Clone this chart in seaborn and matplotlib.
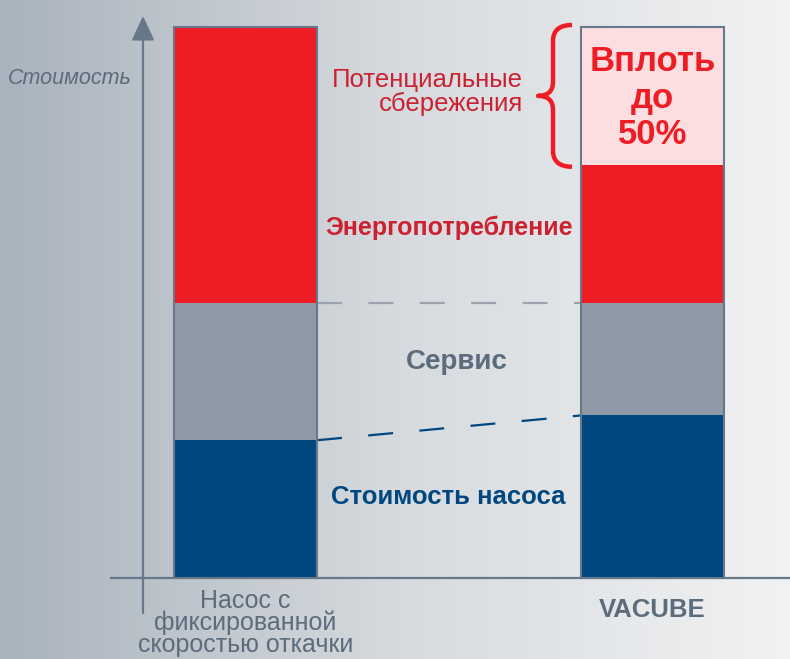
import numpy as np
import pandas as pd
import matplotlib
matplotlib.use("Agg")
import matplotlib.pyplot as plt
import matplotlib.colors as mcolors
from matplotlib.path import Path
from matplotlib.patches import PathPatch
import seaborn as sns

# Данные (условные единицы стоимости, полная стоимость = 100)
categories = ["fixed", "vacube"]
cat_labels = ["Насос с\nфиксированной\nскоростью откачки", "VACUBE"]
segments = ["Стоимость насоса", "Сервис", "Энергопотребление", "Потенциальные сбережения"]
pump_cost = [25.0, 29.5]
service = [25.0, 20.5]
energy = [50.0, 25.0]
savings = [0.0, 25.0]

RED = "#ee1c25"
RED_TXT = "#cc2131"
GRAY = "#8f9aa6"
BLUE = "#00477f"
PINK = "#fcdee1"
OUTLINE = "#66788a"
TXT_GRAY = "#5c6c7c"

sns.set_theme(style="white")
plt.rcParams["font.family"] = ["Liberation Sans", "DejaVu Sans"]
plt.rcParams["lines.scale_dashes"] = False

W, H = 790, 659
fig = plt.figure(figsize=(W / 100, H / 100), dpi=100)
ax = fig.add_axes([0, 0, 1, 1])

# пиксельная геометрия: центры столбцов, базовая линия, верх
cx0, cx1, base_px, top_px = 245.5, 652.5, 578, 27
ux = cx1 - cx0
uy = (base_px - top_px) / 100.0


def X(px):
    return (px - cx0) / ux


def Y(py):
    return (base_px - py) / uy


bar_w = 143 / ux

# фон с градиентом
grad = np.linspace(0, 1, 256)[None, :]
cmap = mcolors.LinearSegmentedColormap.from_list("bg", ["#a9b3bd", "#d6dade", "#f1f2f3"])
ax.imshow(grad, cmap=cmap, aspect="auto", extent=[X(0), X(W), Y(H), Y(0)], zorder=0)

df = pd.DataFrame({
    "cat": categories,
    segments[0]: pump_cost,
    segments[1]: service,
    segments[2]: energy,
    segments[3]: savings,
})
colors = [BLUE, GRAY, RED, PINK]
bottom = np.zeros(len(df))
for seg, col in zip(segments, colors):
    sns.barplot(data=df, x="cat", y=seg, order=categories, bottom=bottom, color=col,
                width=bar_w, errorbar=None, saturation=1, linewidth=0, ax=ax, zorder=2)
    bottom = bottom + df[seg].values

# контур столбцов
df["total"] = bottom
sns.barplot(data=df, x="cat", y="total", order=categories, fill=False, color=OUTLINE,
            width=bar_w, errorbar=None, saturation=1, linewidth=1.5, ax=ax, zorder=3)

# пунктирные линии между столбцами
xl, xr = 0 + bar_w / 2, 1 - bar_w / 2
sv_top = [pump_cost[i] + service[i] for i in range(2)]
ax.plot([xl, xr], sv_top, color="#9ba4ae", lw=1.6, dashes=(18, 19), zorder=2)
ax.plot([xl, xr], pump_cost, color=BLUE, lw=1.6, dashes=(18, 19), zorder=2)

# оси
ax.plot([X(110), X(W)], [0, 0], color=OUTLINE, lw=1.6, zorder=1, solid_capstyle="butt")
ax.annotate("", xy=(X(143), Y(16)), xytext=(X(143), Y(613)),
            arrowprops=dict(arrowstyle="-|>,head_length=0.75,head_width=0.35", lw=1.6,
                            color=OUTLINE, mutation_scale=20, shrinkA=0, shrinkB=0),
            zorder=1)

# фигурная скобка вокруг сегмента сбережений
s_top = bottom[1]
s_bot = s_top - savings[1]
yc = (s_top + s_bot) / 2
dy = 14 / uy
xe, xm, xt = X(572), X(553), X(538)
verts = [
    (xe, s_top + 2 / uy), (xm, s_top + 2 / uy), (xm, s_top - dy),
    (xm, yc + dy), (xm, yc), (xt, yc),
    (xm, yc), (xm, yc - dy),
    (xm, s_bot + dy), (xm, s_bot - 2 / uy), (xe, s_bot - 2 / uy),
]
codes = [Path.MOVETO, Path.CURVE3, Path.CURVE3,
         Path.LINETO, Path.CURVE3, Path.CURVE3,
         Path.CURVE3, Path.CURVE3,
         Path.LINETO, Path.CURVE3, Path.CURVE3]
ax.add_patch(PathPatch(Path(verts, codes), facecolor="none", edgecolor=RED,
                       lw=3.2, capstyle="butt", joinstyle="round", zorder=3))

# подписи
ax.text(X(70), Y(79), "Стоимость", style="italic", color=TXT_GRAY, fontsize=15.5,
        ha="center", va="center")
ax.text(X(523), Y(92), "Потенциальные\nсбережения", color=RED_TXT, fontsize=18.5,
        ha="right", va="center", linespacing=0.95, multialignment="right")
ax.text(1, yc - 0.4, "Вплоть\nдо\n50%", color=RED, fontsize=25, fontweight="bold",
        ha="center", va="center", linespacing=1.15, zorder=4)
ax.text(X(449), Y(228), "Энергопотребление", color=RED_TXT, fontsize=18,
        fontweight="bold", ha="center", va="center")
ax.text(X(457), Y(362), "Сервис", color=TXT_GRAY, fontsize=20,
        fontweight="bold", ha="center", va="center")
ax.text(X(448), Y(497), "Стоимость насоса", color=BLUE, fontsize=18.5,
        fontweight="bold", ha="center", va="center")

ax.text(0, Y(623), cat_labels[0], color=TXT_GRAY, fontsize=18, ha="center",
        va="center", linespacing=0.87)
ax.text(1, Y(610), cat_labels[1], color=TXT_GRAY, fontsize=18.5, fontweight="bold",
        ha="center", va="center")

ax.set_xlim(X(0), X(W))
ax.set_ylim(Y(H), Y(0))
ax.set_axis_off()

fig.savefig("out.png", dpi=100)
